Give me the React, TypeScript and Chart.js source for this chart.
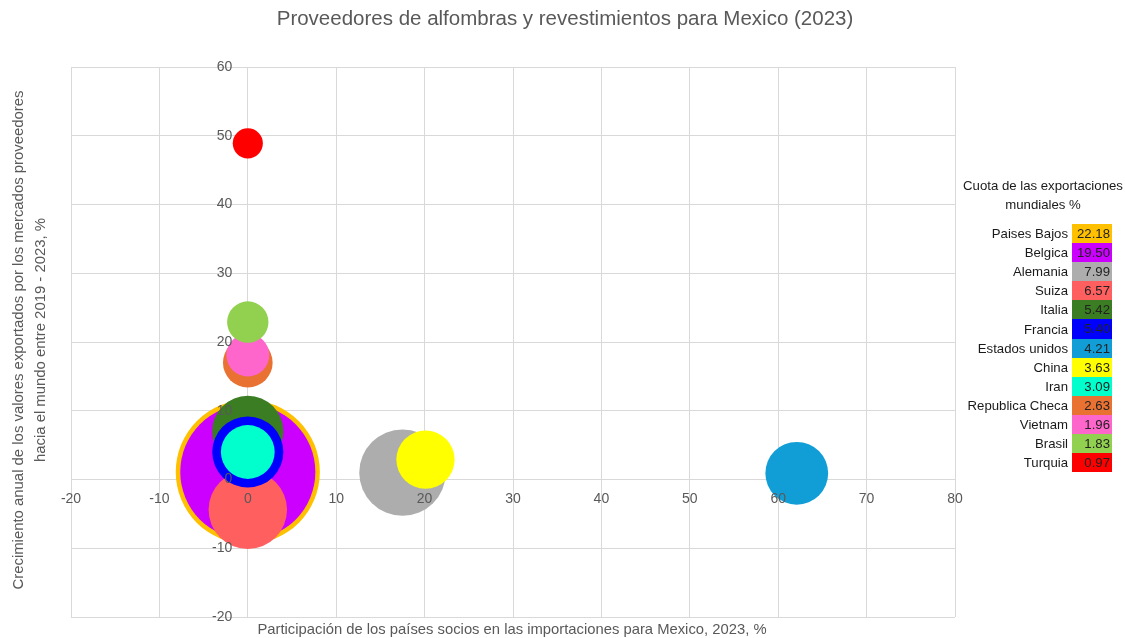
import React, { useEffect, useRef } from "react";
import { Chart, registerables } from "chart.js";
Chart.register(...registerables);

const countries = [
  "Paises Bajos", "Belgica", "Alemania", "Suiza", "Italia", "Francia",
  "Estados unidos", "China", "Iran", "Republica Checa", "Vietnam", "Brasil", "Turquia",
];
const shares = [22.18, 19.5, 7.99, 6.57, 5.42, 5.4, 4.21, 3.63, 3.09, 2.63, 1.96, 1.83, 0.97];
const participation = [0, 0, 17.5, 0, 0, 0, 62.1, 20.1, 0, 0, 0, 0, 0];
const growth = [1.1, 1.1, 1.0, -4.4, 7.0, 4.0, 0.9, 2.9, 4.0, 17.0, 18.1, 22.9, 48.9];
const colors = [
  "#FFC000", "#CC00FF", "#ADADAD", "#FF5F5F", "#3A7D22", "#0000FF",
  "#119ED6", "#FFFF00", "#00FFCC", "#E97132", "#FF66CC", "#92D050", "#FF0000",
];

const TITLE = "Proveedores de alfombras y revestimientos para Mexico (2023)";
const X_TITLE = "Participación de los países socios en las importaciones para Mexico, 2023, %";
const Y_TITLE_1 = "Crecimiento anual de los valores exportados por los mercados proveedores";
const Y_TITLE_2 = "hacia el mundo entre 2019 - 2023, %";
const LEGEND_TITLE_1 = "Cuota de las exportaciones";
const LEGEND_TITLE_2 = "mundiales %";

const X_MIN = -20, X_MAX = 80, Y_MIN = -20, Y_MAX = 60;
const BUBBLE_SCALE = 15.3;

const FONT = "'Liberation Sans', Arial, sans-serif";

export default function App() {
  const ref = useRef<HTMLCanvasElement | null>(null);

  useEffect(() => {
    if (!ref.current) return;
    const data = countries.map((c, i) => ({
      x: participation[i],
      y: growth[i],
      r: BUBBLE_SCALE * Math.sqrt(shares[i]),
    }));
    const grid = { color: "#D9D9D9", lineWidth: 1, drawTicks: false };
    const chart = new Chart(ref.current, {
      type: "bubble",
      data: {
        datasets: [
          {
            label: "Proveedores",
            data,
            backgroundColor: colors,
            borderWidth: 0,
            hoverBorderWidth: 0,
          },
        ],
      },
      options: {
        responsive: false,
        animation: false,
        layout: { autoPadding: false, padding: { left: 71, right: 170, top: 67, bottom: 21 } },
        plugins: {
          legend: { display: false },
          title: { display: false },
          tooltip: { enabled: false },
        },
        scales: {
          x: {
            type: "linear",
            min: X_MIN,
            max: X_MAX,
            position: { y: 0 },
            grid,
            border: { display: true, color: "#D9D9D9" },
            afterFit: (s: any) => { s.height = 0; },
            ticks: {
              stepSize: 10,
              padding: 11,
              z: 1,
              color: "#595959",
              font: { family: FONT, size: 14 },
            },
          },
          y: {
            type: "linear",
            min: Y_MIN,
            max: Y_MAX,
            position: { x: 0 },
            grid,
            border: { display: true, color: "#D9D9D9" },
            afterFit: (s: any) => { s.width = 0; },
            ticks: {
              stepSize: 10,
              z: 1,
              color: "#595959",
              font: { family: FONT, size: 14 },
              callback: (v: any) => String(v) + "    ",
            },
          },
        },
      },
    });
    return () => chart.destroy();
  }, []);

  return (
    <div
      style={{
        position: "fixed",
        left: 0,
        top: 0,
        width: 1125,
        height: 638,
        background: "#fff",
        fontFamily: FONT,
        overflow: "hidden",
      }}
    >
      <canvas
        ref={ref}
        width={1125}
        height={638}
        style={{ position: "absolute", left: 0, top: 0, width: 1125, height: 638 }}
      />
      <div
        style={{
          position: "absolute",
          left: 0,
          top: 6,
          width: 1130,
          textAlign: "center",
          fontSize: 20.5,
          color: "#595959",
          whiteSpace: "nowrap",
        }}
      >
        {TITLE}
      </div>
      <div
        style={{
          position: "absolute",
          left: 0,
          top: 621,
          width: 1024,
          textAlign: "center",
          fontSize: 14.8,
          color: "#595959",
          whiteSpace: "nowrap",
        }}
      >
        {X_TITLE}
      </div>
      <div
        style={{
          position: "absolute",
          left: 29 - 300,
          top: 340 - 22,
          width: 600,
          height: 44,
          transform: "rotate(-90deg)",
          transformOrigin: "50% 50%",
          textAlign: "center",
          fontSize: 14.9,
          lineHeight: "22px",
          color: "#595959",
          whiteSpace: "nowrap",
        }}
      >
        <div>{Y_TITLE_1}</div>
        <div>{Y_TITLE_2}</div>
      </div>
      <div
        style={{
          position: "absolute",
          left: 955,
          top: 176,
          width: 176,
          fontSize: 13.2,
          color: "#1a1a1a",
        }}
      >
        <div style={{ textAlign: "center", lineHeight: "19px" }}>
          <div>{LEGEND_TITLE_1}</div>
          <div>{LEGEND_TITLE_2}</div>
        </div>
        <div style={{ marginTop: 10 }}>
          {countries.map((c, i) => (
            <div key={c} style={{ display: "flex", height: 19.1, alignItems: "center" }}>
              <div style={{ width: 113, textAlign: "right", paddingRight: 4, whiteSpace: "nowrap" }}>{c}</div>
              <div
                style={{
                  width: 40,
                  height: 19.1,
                  lineHeight: "19px",
                  background: colors[i],
                  textAlign: "right",
                  paddingRight: 2,
                  boxSizing: "border-box",
                  color: "#222",
                }}
              >
                {shares[i].toFixed(2)}
              </div>
            </div>
          ))}
        </div>
      </div>
    </div>
  );
}
